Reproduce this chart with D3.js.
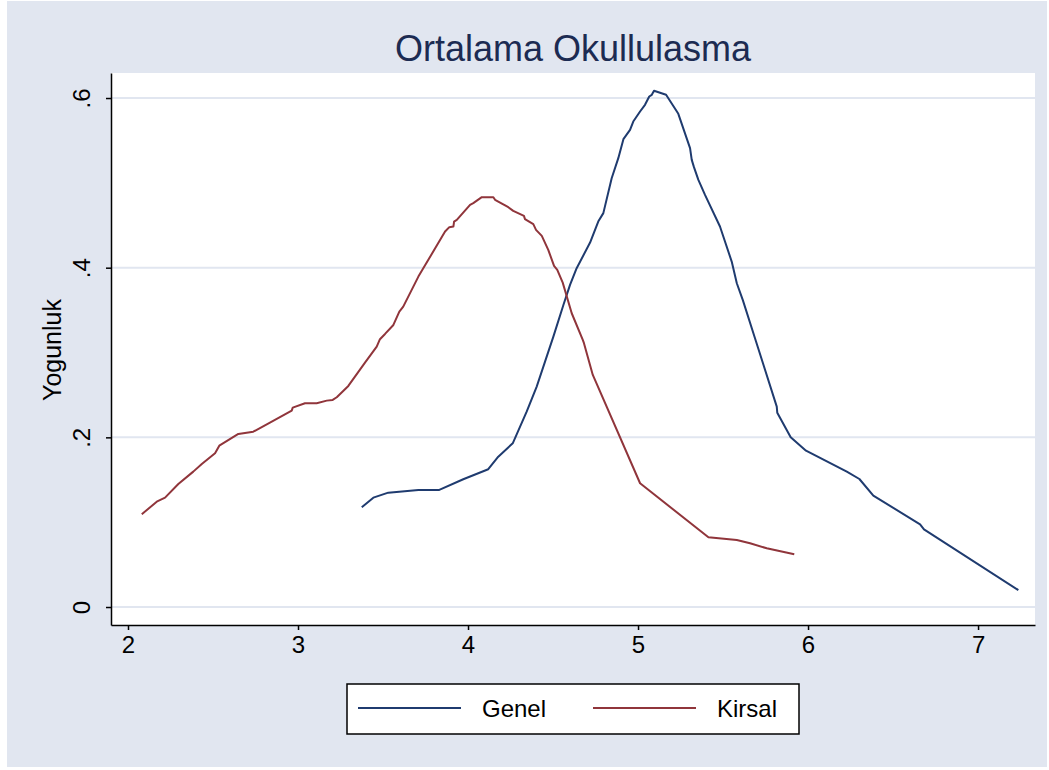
<!DOCTYPE html>
<meta charset="utf-8">
<script src="https://d3js.org/d3.v7.min.js"></script>
<style>
  body { margin: 0; background: #fff; }
  text { font-family: "Liberation Sans", Arial, sans-serif; }
</style>
<div id="my_dataviz"></div>
<script>

// kernel density estimates
var genelX = [3.375, 3.443, 3.531, 3.708, 3.831, 3.972, 4.119, 4.178, 4.263, 4.345, 4.404, 4.453, 4.502, 4.561, 4.600, 4.639, 4.718, 4.766, 4.796, 4.845, 4.884, 4.914, 4.953, 4.972, 5.012, 5.041, 5.066, 5.081, 5.094, 5.165, 5.237, 5.306, 5.316, 5.329, 5.355, 5.394, 5.482, 5.551, 5.581, 5.616, 5.688, 5.816, 5.819, 5.898, 5.988, 6.228, 6.302, 6.384, 6.659, 6.682, 7.237];
var genelY = [0.1176, 0.1289, 0.1348, 0.1380, 0.1380, 0.1506, 0.1624, 0.1772, 0.1930, 0.2303, 0.2598, 0.2893, 0.3187, 0.3561, 0.3797, 0.3994, 0.4296, 0.4544, 0.4643, 0.5055, 0.5291, 0.5515, 0.5625, 0.5723, 0.5841, 0.5920, 0.6018, 0.6038, 0.6085, 0.6038, 0.5814, 0.5409, 0.5271, 0.5185, 0.5035, 0.4858, 0.4485, 0.4072, 0.3817, 0.3620, 0.3169, 0.2362, 0.2291, 0.2001, 0.1843, 0.1596, 0.1509, 0.1313, 0.0975, 0.0916, 0.0200];

var kirsalX = [2.081, 2.169, 2.218, 2.296, 2.384, 2.434, 2.512, 2.537, 2.649, 2.737, 2.835, 2.963, 2.969, 3.041, 3.110, 3.169, 3.204, 3.228, 3.296, 3.394, 3.463, 3.482, 3.512, 3.561, 3.596, 3.619, 3.708, 3.865, 3.890, 3.914, 3.918, 3.934, 4.012, 4.031, 4.081, 4.149, 4.159, 4.237, 4.266, 4.329, 4.335, 4.384, 4.400, 4.434, 4.472, 4.506, 4.525, 4.557, 4.610, 4.675, 4.682, 4.734, 5.012, 5.414, 5.581, 5.659, 5.757, 5.919];
var kirsalY = [0.1093, 0.1242, 0.1289, 0.1450, 0.1596, 0.1686, 0.1813, 0.1902, 0.2040, 0.2067, 0.2173, 0.2315, 0.2350, 0.2402, 0.2402, 0.2433, 0.2441, 0.2473, 0.2606, 0.2881, 0.3070, 0.3157, 0.3219, 0.3325, 0.3482, 0.3541, 0.3895, 0.4426, 0.4478, 0.4485, 0.4544, 0.4564, 0.4741, 0.4761, 0.4831, 0.4831, 0.4800, 0.4713, 0.4670, 0.4611, 0.4572, 0.4513, 0.4446, 0.4375, 0.4210, 0.4021, 0.3974, 0.3824, 0.3463, 0.3149, 0.3110, 0.2736, 0.1459, 0.0822, 0.0790, 0.0751, 0.0692, 0.0621];

var xTicks = [2, 3, 4, 5, 6, 7];
var yTicks = [0, 0.2, 0.4, 0.6];
var yTickLabels = ["0", ".2", ".4", ".6"];
var seriesNames = ["Genel", "Kirsal"];
var seriesColors = ["#1f3b6f", "#90353b"];
var title = "Ortalama Okullulasma";
var yTitle = "Yogunluk";

var W = 1049, H = 770;
var margin = {top: 73, right: 14, bottom: 145, left: 111},
    width = W - margin.left - margin.right,
    height = H - margin.top - margin.bottom;

var root = d3.select("#my_dataviz")
  .append("svg")
    .attr("width", W)
    .attr("height", H);

// outer background (Stata s2color look)
root.append("rect")
  .attr("x", 7).attr("y", 1)
  .attr("width", 1040).attr("height", 766)
  .attr("fill", "#e1e6f0");

var svg = root.append("g")
  .attr("transform", "translate(" + margin.left + "," + margin.top + ")");

svg.append("rect")
  .attr("width", width).attr("height", height)
  .attr("fill", "#fff");

var x = d3.scaleLinear().domain([1.9, 7.335]).range([0, width]);
var y = d3.scaleLinear().domain([-0.0212, 0.6295]).range([height, 0]);

// grid
svg.append("g")
  .selectAll("line")
  .data(yTicks)
  .enter()
  .append("line")
    .attr("x1", 0).attr("x2", width)
    .attr("y1", function(d) { return y(d); })
    .attr("y2", function(d) { return y(d); })
    .attr("stroke", "#e1e6f0")
    .attr("stroke-width", 2);

// lines
var genel = genelX.map(function(v, i) { return {x: v, y: genelY[i]}; });
var kirsal = kirsalX.map(function(v, i) { return {x: v, y: kirsalY[i]}; });
var lineGen = d3.line()
  .x(function(d) { return x(d.x); })
  .y(function(d) { return y(d.y); });

[genel, kirsal].forEach(function(s, i) {
  svg.append("path")
    .datum(s)
    .attr("fill", "none")
    .attr("stroke", seriesColors[i])
    .attr("stroke-width", 2)
    .attr("stroke-linejoin", "round")
    .attr("d", lineGen);
});

// X axis
var xAxis = svg.append("g")
  .attr("transform", "translate(0," + height + ")")
  .call(d3.axisBottom(x).tickValues(xTicks).tickSize(5).tickPadding(6).tickSizeOuter(0).tickFormat(d3.format("d")));
xAxis.select(".domain").attr("stroke", "#000").attr("stroke-width", 1.5);
xAxis.selectAll(".tick line").attr("stroke", "#000").attr("stroke-width", 1.5);
xAxis.selectAll("text")
  .attr("fill", "#000")
  .style("font-size", "24px")
  .style("font-family", "'Liberation Sans', Arial, sans-serif");

// Y axis
var yAxis = svg.append("g")
  .call(d3.axisLeft(y).tickValues(yTicks).tickSize(5).tickSizeOuter(0)
    .tickFormat(function(d, i) { return yTickLabels[i]; }));
yAxis.select(".domain").attr("stroke", "#000").attr("stroke-width", 1.5);
yAxis.selectAll(".tick line").attr("stroke", "#000").attr("stroke-width", 1.5);
yAxis.selectAll("text")
  .attr("fill", "#000")
  .attr("x", null).attr("dy", null)
  .attr("text-anchor", "middle")
  .attr("transform", "translate(-21,0) rotate(-90)")
  .style("font-size", "24px")
  .style("font-family", "'Liberation Sans', Arial, sans-serif");

// y title
root.append("text")
  .attr("transform", "translate(61,350) rotate(-90)")
  .attr("text-anchor", "middle")
  .style("font-size", "25px")
  .attr("fill", "#000")
  .text(yTitle);

// title
root.append("text")
  .attr("x", 573).attr("y", 61)
  .attr("text-anchor", "middle")
  .style("font-size", "36px")
  .attr("fill", "#1c2b52")
  .text(title);

// legend
var legend = root.append("g");
legend.append("rect")
  .attr("x", 347).attr("y", 684)
  .attr("width", 452).attr("height", 50)
  .attr("fill", "#fff")
  .attr("stroke", "#000")
  .attr("stroke-width", 1.5);

var legX = [358, 593];
seriesNames.forEach(function(n, i) {
  legend.append("line")
    .attr("x1", legX[i]).attr("x2", legX[i] + 103)
    .attr("y1", 708).attr("y2", 708)
    .attr("stroke", seriesColors[i])
    .attr("stroke-width", 2);
  legend.append("text")
    .attr("x", legX[i] + 124).attr("y", 717)
    .style("font-size", "24px")
    .attr("fill", "#000")
    .text(n);
});

</script>
